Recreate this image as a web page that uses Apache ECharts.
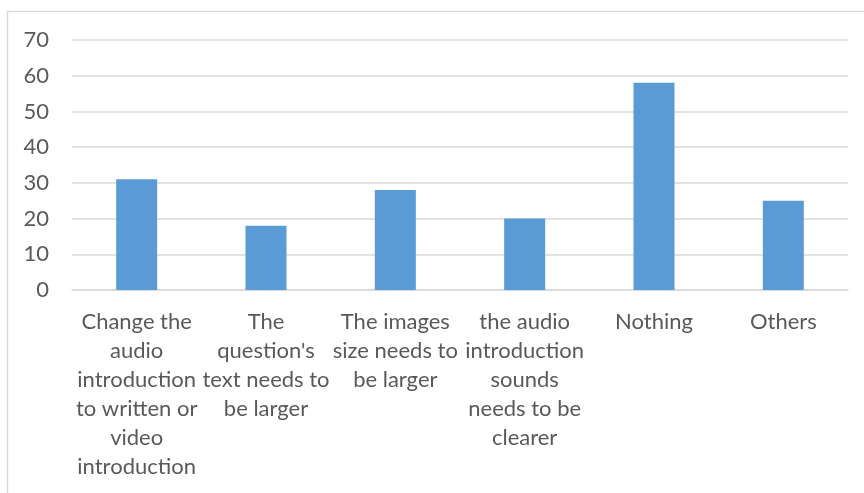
<!DOCTYPE html>
<html>
<head>
<meta charset="utf-8">
<script src="https://cdn.jsdelivr.net/npm/echarts@6/dist/echarts.min.js"></script>
<style>
  html, body { margin: 0; padding: 0; background: #fff; }
  #chart { width: 864px; height: 493px; }
</style>
</head>
<body>
<div id="chart"></div>
<script>
// categories and values
const categories = [
  'Change the\naudio\nintroduction\nto written or\nvideo\nintroduction',
  'The\nquestion\'s\ntext needs to\nbe larger',
  'The images\nsize needs to\nbe larger',
  'the audio\nintroduction\nsounds\nneeds to be\nclearer',
  'Nothing',
  'Others'
]
const values = [31, 18, 28, 20, 58, 25]
const yTicks = [0, 10, 20, 30, 40, 50, 60, 70]

const font = 'Lato, sans-serif'

const chart = echarts.init(document.getElementById('chart'), null, { renderer: 'canvas' })

chart.setOption({
  animation: false,
  // chart-area border
  graphic: [{
    type: 'rect',
    shape: { x: 7.5, y: 11.5, width: 900, height: 520 },
    style: { fill: 'none', stroke: '#d9d9d9', lineWidth: 1.5 },
    silent: true
  }],
  grid: { left: 72, right: 16, top: 40, bottom: 203 },
  xAxis: {
    type: 'category',
    data: categories,
    axisTick: { show: false },
    axisLine: { lineStyle: { color: '#d9d9d9', width: 1.5 } },
    axisLabel: {
      interval: 0,
      margin: 17,
      color: '#595959',
      fontFamily: font,
      fontSize: 22,
      lineHeight: 29,
      align: 'center'
    }
  },
  yAxis: {
    type: 'value',
    min: yTicks[0],
    max: yTicks[yTicks.length - 1],
    interval: 10,
    axisLine: { show: false },
    axisTick: { show: false },
    splitLine: { lineStyle: { color: '#d9d9d9', width: 1.5 } },
    axisLabel: {
      margin: 23,
      color: '#595959',
      fontFamily: font,
      fontSize: 22
    }
  },
  series: [{
    type: 'bar',
    data: values,
    barWidth: 41,
    itemStyle: { color: '#5b9bd5' }
  }]
})
</script>
</body>
</html>
